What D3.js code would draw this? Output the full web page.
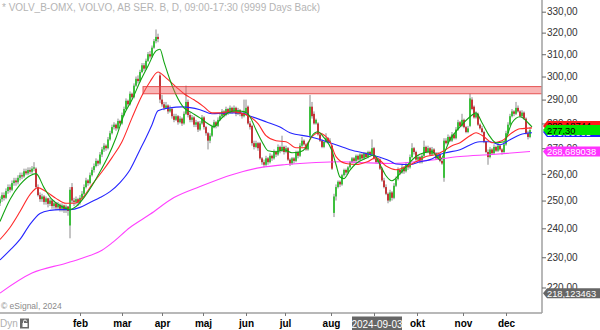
<!DOCTYPE html>
<html>
<head>
<meta charset="utf-8">
<script src="https://cdn.jsdelivr.net/npm/d3@7"></script>
<style>
body { margin: 0; background: #fff; }
svg { display: block; font-family: Arial, "Liberation Sans", sans-serif; }
</style>
</head>
<body>
<script>
// daily candles [open, high, low, close] (Dec 2023 - Dec 2024)
const ohlc = [
  [249.0,251.5,248.0,250.5],[250.5,253.0,249.5,252.0],[252.0,253.0,250.0,251.0],[251.0,254.5,250.5,253.5],
  [253.5,256.0,252.5,255.0],[255.0,256.0,253.0,254.0],[254.0,257.5,253.5,256.5],[256.5,258.5,255.5,257.5],
  [257.5,258.5,255.5,256.8],[256.8,259.5,256.0,258.5],[258.5,260.5,257.5,259.5],[259.5,260.5,258.0,259.0],
  [259.0,262.0,258.5,261.0],[261.0,262.0,259.5,260.2],[260.2,262.5,259.5,261.5],[261.5,262.5,260.0,260.8],
  [260.8,263.0,260.0,262.0],[262.0,264.5,261.0,262.5],[262.0,262.5,254.5,255.0],[255.0,256.0,251.5,252.0],
  [252.0,253.0,249.5,250.5],[250.5,252.5,249.5,251.5],[251.5,252.0,248.5,249.5],[249.5,251.5,248.5,250.8],
  [250.8,251.0,247.5,248.8],[248.8,251.0,248.0,250.0],[250.0,250.5,247.0,248.0],[248.0,250.0,247.0,249.0],
  [249.0,249.5,246.5,247.5],[247.5,249.5,246.5,248.5],[248.5,249.0,246.0,247.0],[247.0,249.0,246.0,248.2],
  [248.2,248.5,245.5,246.5],[246.5,248.5,245.5,247.8],[247.8,248.0,244.5,246.2],[241.0,255.0,236.5,254.0],
  [255.0,256.5,249.0,250.0],[250.0,251.0,248.0,249.5],[249.5,251.5,248.5,250.5],[250.5,251.0,248.0,249.2],
  [249.2,252.0,248.5,251.0],[251.0,253.5,250.5,252.5],[252.5,256.0,252.0,255.0],[255.0,258.5,254.5,257.5],
  [257.5,258.0,255.5,256.5],[256.5,260.5,256.0,259.5],[259.5,262.5,259.0,261.5],[261.5,264.0,260.5,263.0],
  [263.0,266.0,262.5,265.0],[265.0,265.5,263.0,264.0],[264.0,268.5,263.5,267.5],[267.5,270.5,266.5,269.5],
  [269.5,272.0,268.5,271.0],[271.0,271.5,269.0,270.0],[270.0,274.5,269.5,273.5],[273.5,277.0,273.0,276.0],
  [276.0,279.5,275.5,278.5],[278.5,280.5,277.5,279.5],[279.5,280.0,277.0,278.0],[278.0,282.0,277.5,281.0],
  [281.0,281.5,279.0,280.0],[280.0,284.5,279.5,283.5],[283.5,287.0,283.0,286.0],[286.0,290.5,285.5,289.5],
  [289.5,290.0,287.0,288.0],[288.0,293.5,287.5,292.5],[292.5,293.0,290.0,291.0],[291.0,297.0,290.5,296.0],
  [296.0,300.0,295.5,299.0],[299.0,300.5,297.0,298.0],[298.0,303.0,297.5,302.0],[302.0,306.0,301.5,305.0],
  [305.0,306.0,302.5,303.5],[303.5,308.0,303.0,307.0],[307.0,311.0,306.5,310.0],[310.0,311.5,308.0,309.0],
  [309.0,314.0,308.5,313.0],[313.0,317.0,312.5,316.0],[316.0,321.5,315.0,318.0],[318.0,319.5,315.5,317.0],
  [300.5,301.5,288.5,290.0],[290.0,292.0,287.0,288.0],[288.0,289.0,285.5,286.5],[286.5,289.0,286.0,287.5],
  [287.5,288.0,284.0,285.0],[285.0,287.5,284.5,286.0],[286.0,286.5,282.0,283.0],[283.0,284.0,280.5,281.5],
  [281.5,284.0,281.0,283.0],[283.0,283.5,279.5,280.5],[280.5,283.0,280.0,282.0],[282.0,282.5,279.0,280.0],
  [280.0,285.0,279.5,284.0],[284.0,296.0,283.5,289.0],[289.0,290.0,282.5,283.5],[283.5,284.5,280.5,281.5],
  [281.5,283.5,280.5,282.5],[282.5,283.0,278.5,279.5],[279.5,281.5,278.5,280.5],[280.5,281.0,276.5,277.5],
  [277.5,281.0,277.0,280.0],[280.0,283.5,279.5,282.5],[282.5,283.0,277.5,278.5],[278.5,279.0,275.0,276.0],
  [276.0,276.5,269.5,273.0],[273.0,276.0,272.0,275.0],[275.0,279.5,274.5,278.5],[278.5,281.5,278.0,280.5],
  [280.5,281.0,278.0,279.0],[279.0,282.5,278.5,281.5],[281.5,284.0,281.0,283.0],[283.0,286.0,282.5,285.0],
  [285.0,285.5,282.5,283.5],[283.5,287.0,283.0,286.0],[286.0,286.5,283.5,284.5],[284.5,287.5,284.0,286.5],
  [286.5,287.0,284.0,285.0],[285.0,287.5,284.5,286.5],[286.5,287.0,283.0,284.0],[284.0,286.5,283.5,285.5],
  [285.5,286.0,283.0,284.0],[284.0,284.5,282.0,283.0],[283.0,290.0,282.5,284.5],[284.5,290.0,284.0,286.5],
  [287.0,287.5,279.5,280.0],[280.0,281.0,277.5,278.5],[279.0,279.5,271.0,272.0],[272.0,273.0,269.5,270.5],
  [270.5,273.0,270.0,272.0],[272.0,272.5,269.0,270.0],[272.0,272.5,265.5,266.0],[266.0,266.5,263.5,264.5],
  [264.5,265.5,262.5,263.5],[263.5,267.0,263.0,266.0],[266.0,266.5,263.5,264.5],[264.5,268.0,264.0,267.0],
  [267.0,267.5,265.0,266.0],[266.0,269.5,265.5,268.5],[268.5,269.0,266.5,267.5],[267.5,271.5,267.0,270.5],
  [270.5,271.0,268.0,269.0],[269.0,275.0,268.5,270.5],[270.5,271.0,267.5,268.5],[268.5,271.0,268.0,270.0],
  [270.0,270.5,265.0,265.5],[265.5,266.0,263.0,264.0],[264.0,266.5,263.5,266.0],[266.0,266.5,264.0,265.0],
  [265.0,269.0,264.5,268.5],[268.5,269.0,266.0,267.0],[267.0,272.0,266.5,271.0],[271.0,274.5,270.5,273.0],
  [273.0,273.5,271.0,271.5],[271.5,272.0,269.0,269.5],[269.5,272.5,269.0,272.0],[275.0,292.0,274.0,287.0],
  [287.0,289.0,282.0,283.0],[284.0,285.0,279.5,280.0],[280.0,282.0,279.5,281.5],[280.0,280.5,275.0,275.5],
  [275.5,276.0,272.5,273.0],[273.0,273.5,270.0,270.5],[270.5,273.0,270.0,272.5],[272.5,276.0,272.0,274.0],
  [274.0,274.5,272.0,272.5],[272.5,274.0,272.0,273.0],[271.0,271.5,261.5,262.0],[245.5,252.5,244.0,251.5],
  [251.5,256.0,250.0,255.0],[255.0,257.5,254.5,257.0],[257.0,257.5,255.0,256.0],[256.0,260.0,255.5,259.5],
  [259.5,262.0,259.0,261.5],[261.5,262.0,259.5,260.5],[260.5,263.0,260.0,262.5],[262.5,265.0,262.0,264.5],
  [264.5,266.5,264.0,266.0],[266.0,266.5,264.0,265.0],[265.0,267.5,264.5,267.0],[267.0,267.5,265.0,265.5],
  [265.5,268.0,265.0,267.5],[267.5,268.0,265.5,266.0],[266.0,268.5,265.5,268.0],[268.0,268.5,266.0,266.5],
  [266.5,269.0,266.0,268.5],[268.5,269.0,267.0,267.5],[267.5,273.5,267.0,270.0],[270.0,270.5,265.5,266.0],
  [266.0,266.5,264.0,264.5],[264.5,266.0,264.0,265.5],[265.5,266.0,261.5,262.0],[262.0,262.5,257.0,257.5],
  [257.5,258.5,254.5,255.0],[255.0,256.0,252.0,252.5],[252.5,253.0,249.0,250.0],[250.0,254.0,249.5,253.0],
  [253.0,253.5,250.0,251.0],[251.0,256.5,250.5,255.5],[255.5,259.0,255.0,258.0],[258.0,262.5,257.5,261.5],
  [261.5,262.0,259.5,260.5],[260.5,263.5,260.0,262.5],[262.5,263.0,260.0,261.0],[261.0,264.5,260.5,263.5],
  [263.5,264.0,261.5,262.5],[262.5,267.5,262.0,266.5],[266.5,272.0,266.0,270.0],[270.0,270.5,267.5,268.5],
  [268.5,269.0,265.0,265.5],[265.5,267.5,265.0,266.5],[266.5,267.0,264.0,264.5],[264.5,268.0,264.0,267.0],
  [267.0,273.0,266.5,270.5],[270.5,271.0,268.0,268.5],[268.5,271.0,268.0,270.0],[270.0,270.5,267.0,267.5],
  [267.5,270.5,267.0,269.5],[269.5,270.0,267.5,268.0],[268.0,268.5,265.5,266.0],[266.0,268.5,265.5,267.5],
  [267.5,268.0,264.5,265.0],[265.0,266.0,263.5,264.0],[258.5,274.0,257.0,273.0],[273.0,274.0,271.5,272.0],
  [272.0,275.5,271.5,274.5],[274.5,275.0,272.5,273.0],[273.0,276.5,272.5,275.5],[275.5,276.0,273.5,274.0],
  [274.0,278.5,273.5,277.5],[277.5,281.5,277.0,280.5],[280.5,281.0,278.5,279.0],[279.0,284.0,278.5,281.5],
  [281.5,282.0,278.0,278.5],[278.5,279.0,276.0,276.5],[276.5,279.0,276.0,278.0],[279.0,292.5,278.5,290.5],
  [290.0,291.0,285.5,286.0],[287.0,287.5,282.0,282.5],[282.5,285.0,282.0,284.0],[284.0,284.5,279.0,279.5],
  [279.5,280.0,277.5,278.0],[278.0,279.0,276.0,276.5],[276.5,277.0,272.0,272.5],[272.5,273.0,268.0,268.5],
  [268.5,269.5,263.5,266.5],[266.5,270.5,266.0,269.5],[269.5,270.0,267.5,268.0],[268.0,271.5,267.5,270.5],
  [270.5,271.0,268.5,269.0],[269.0,272.0,268.5,271.0],[271.0,271.5,269.0,269.5],[269.5,270.0,267.5,268.5],
  [268.5,272.5,268.0,271.5],[271.5,277.0,271.0,276.0],[276.0,280.5,275.5,279.5],[279.5,284.0,279.0,283.0],
  [283.0,286.0,282.5,285.0],[285.0,285.5,283.0,284.0],[284.0,289.0,283.5,286.5],[286.5,287.5,284.5,285.0],
  [285.0,285.5,282.5,283.0],[283.0,285.5,282.5,284.5],[284.5,285.0,281.5,282.0],[282.0,282.5,275.5,276.0],
  [276.0,277.0,273.5,274.5],[274.5,278.5,274.0,277.3]
];

// moving averages as [candle index, price]
const greenMA = [[0,242.4],[5,250.4],[10,255.9],[15,259.3],[18,260.1],[22,254.8],[26,250.4],[30,248.2],[35,246.7],
  [38,247.8],[42,251.1],[46,255.5],[50,260.8],[54,266.7],[58,274.2],[62,283.6],[66,289.9],[70,297.7],[74,304.7],
  [78,311.5],[80,312.3],[82,306.5],[85,298.5],[88,292.1],[92,286.5],[96,284.4],[100,282.3],[104,279.9],[107,278.6],
  [110,281.5],[114,284.4],[118,285.3],[122,284.9],[125,282.8],[128,277.4],[131,272.6],[134,269.0],[138,268.6],
  [142,269.4],[146,268.2],[150,268.5],[153,270.2],[156,275.0],[159,276.6],[162,274.2],[166,269.0],[168,263.6],
  [170,258.8],[172,258.2],[175,261.4],[178,264.0],[183,266.0],[187,267.3],[190,263.6],[193,259.3],[196,257.4],
  [200,260.1],[204,263.6],[208,266.7],[212,268.2],[216,268.6],[220,265.5],[225,273.4],[230,278.6],[235,282.8],
  [238,284.4],[241,280.3],[245,274.6],[248,272.2],[252,272.6],[256,280.3],[260,282.8],[264,280.3],[266,278.6]];
const redMA = [[0,236.1],[5,240.3],[10,246.0],[15,252.2],[19,254.8],[23,253.3],[28,250.8],[33,249.0],[37,249.0],
  [41,250.8],[46,255.9],[51,260.8],[56,266.3],[61,272.6],[66,282.3],[71,291.7],[75,297.7],[79,302.0],[83,299.4],
  [88,295.5],[92,292.5],[97,289.9],[102,286.9],[106,284.4],[110,284.4],[115,284.9],[120,284.4],[125,282.8],
  [129,279.9],[133,275.0],[138,273.0],[143,272.6],[148,270.2],[152,270.2],[156,274.6],[159,276.2],[163,274.6],
  [165,272.6],[168,266.7],[173,264.0],[178,263.6],[184,264.8],[188,266.3],[193,263.0],[198,261.6],[203,262.8],
  [208,264.7],[213,266.7],[218,267.5],[222,269.0],[226,271.0],[230,272.2],[235,275.0],[238,276.2],[242,274.6],
  [246,272.2],[251,273.0],[256,276.2],[260,277.8],[266,278.2]];
const blueMA = [[0,229.1],[5,232.4],[10,236.1],[15,241.4],[20,245.3],[25,246.4],[30,246.7],[35,246.7],[40,247.5],
  [45,249.3],[50,251.1],[55,253.3],[60,256.7],[65,261.6],[70,269.4],[73,274.2],[76,279.5],[79,285.3],[85,286.5],
  [91,286.9],[100,285.7],[106,284.0],[113,284.4],[120,284.4],[126,282.8],[133,280.7],[140,278.5],[145,276.2],
  [155,274.6],[165,272.2],[175,269.4],[185,267.5],[195,265.0],[198,263.8],[205,263.6],[210,264.7],[215,265.5],
  [220,267.5],[230,269.4],[240,272.6],[245,272.6],[250,271.4],[255,273.4],[260,275.4],[266,276.2]];
const magentaMA = [[0,218.2],[16,224.7],[33,228.0],[41,229.7],[51,232.4],[56,234.9],[65,240.3],[75,245.0],
  [87,251.1],[100,255.2],[116,259.7],[130,262.4],[143,263.6],[158,264.4],[170,264.7],[180,264.4],[196,264.0],
  [213,265.1],[230,266.7],[246,267.5],[265,268.7]];

const priceTicks = [220, 230, 240, 250, 260, 270, 280, 290, 300, 310, 320, 330];
const monthLabels = ['feb', 'mar', 'apr', 'maj', 'jun', 'jul', 'aug', '', 'okt', 'nov', 'dec'];
const monthIdx = [40, 61, 81, 101.5, 123, 142.5, 165.5, 187, 208.5, 231.5, 253];
const zone = [292.5, 295.6];   // resistance band
const zoneStart = 71.5;
const tagValues = [218.123463, 268.689038, 279.0, 276.5, 277.30];
const tagTexts = ['218,123463', '268,689038', '280,18744', '275,80065', '277,30'];
const tagFills = ['#666666', '#ff33ff', '#ff1a1a', '#1f1fff', '#00e600'];
const tagInk = ['#fff', '#fff', '#000', '#fff', '#000'];

const W = 600, H = 330, axisX = 542, baseY = 313;

const svg = d3.select('body').append('svg')
    .attr('width', W)
    .attr('height', H)

const x = d3.scaleLinear().domain([0, 265]).range([0, 530])
const y = d3.scaleLog().domain([220, 330]).range([287.5, 11.7])

svg.append('clipPath').attr('id', 'plot')
  .append('rect').attr('x', 0).attr('y', 0).attr('width', axisX).attr('height', baseY)

const plot = svg.append('g').attr('clip-path', 'url(#plot)')

// title and copyright
svg.append('text')
    .attr('x', 2).attr('y', 11)
    .attr('font-size', '10px')
    .attr('fill', '#b4b4b4')
    .text('* VOLV_B-OMX, VOLVO, AB SER. B, D, 09:00-17:30 (9999 Days Back)')
svg.append('text')
    .attr('x', 1).attr('y', 308.5)
    .attr('font-size', '8.5px')
    .attr('fill', '#8a8a8a')
    .text('\u00a9 eSignal, 2024')

// candles
const candle = plot.selectAll('.candle').data(ohlc).enter()
    .append('g').attr('class', 'candle')
candle.append('line')
    .attr('x1', (d, i) => x(i)).attr('x2', (d, i) => x(i))
    .attr('y1', d => y(d[1])).attr('y2', d => y(d[2]))
    .attr('stroke', '#8a8a8a').attr('stroke-width', 1)
candle.append('rect')
    .attr('x', (d, i) => x(i) - 0.9)
    .attr('width', 1.8)
    .attr('y', d => y(Math.max(d[0], d[3])))
    .attr('height', d => Math.max(1, Math.abs(y(d[0]) - y(d[3]))))
    .attr('fill', d => d[3] >= d[0] ? '#2fbf2f' : '#c4262b')

// moving averages
const line = d3.line()
    .x(d => x(d[0]))
    .y(d => y(d[1]))
    .curve(d3.curveMonotoneX)
const mas = [[magentaMA, '#ff40ff'], [blueMA, '#2525ff'], [redMA, '#ff2a2a'], [greenMA, '#12a412']]
mas.forEach(m => {
  plot.append('path')
      .datum(m[0])
      .attr('d', line)
      .attr('fill', 'none')
      .attr('stroke', m[1])
      .attr('stroke-width', 1.1)
})

// resistance zone
plot.append('rect')
    .attr('x', x(zoneStart))
    .attr('y', y(zone[1]))
    .attr('width', axisX - x(zoneStart) + 2)
    .attr('height', y(zone[0]) - y(zone[1]))
    .attr('fill', 'rgba(242,90,90,0.45)')
    .attr('stroke', 'rgba(225,60,60,0.85)')
    .attr('stroke-width', 1)

// frame
svg.append('line')
    .attr('x1', axisX).attr('x2', axisX).attr('y1', 0).attr('y2', baseY)
    .attr('stroke', '#a0a0a0').attr('stroke-width', 1.5)
svg.append('line')
    .attr('x1', 0).attr('x2', axisX).attr('y1', baseY).attr('y2', baseY)
    .attr('stroke', '#a0a0a0').attr('stroke-width', 1.5)

// price axis
const yAxis = svg.append('g')
    .attr('transform', 'translate(' + axisX + ',0)')
    .call(d3.axisRight(y).tickValues(priceTicks).tickSize(4).tickPadding(1)
      .tickFormat(d => d.toFixed(2).replace('.', ',')))
yAxis.select('.domain').remove()
yAxis.selectAll('line').attr('stroke', '#666')
yAxis.selectAll('text')
    .attr('font-size', '10px')
    .attr('font-family', 'Arial, "Liberation Sans", sans-serif')
    .attr('fill', '#333')

// price tags on the axis
tagValues.forEach((v, i) => {
  const ty = y(v)
  const g = svg.append('g')
  g.append('path')
      .attr('d', 'M' + (axisX + 1) + ',' + ty + 'L' + (axisX + 5) + ',' + (ty - 5) + 'L' + W + ',' + (ty - 5)
        + 'L' + W + ',' + (ty + 5) + 'L' + (axisX + 5) + ',' + (ty + 5) + 'Z')
      .attr('fill', tagFills[i])
  g.append('text')
      .attr('x', axisX + 5).attr('y', ty + 3.6)
      .attr('font-size', '9.3px')
      .attr('fill', tagInk[i])
      .text(tagTexts[i])
})

// month axis
const xAxis = svg.append('g')
    .attr('transform', 'translate(0,' + baseY + ')')
    .call(d3.axisBottom(x).tickValues(monthIdx).tickSize(3).tickPadding(4)
      .tickFormat((d, i) => monthLabels[i]))
xAxis.select('.domain').remove()
xAxis.selectAll('line').attr('stroke', '#777')
xAxis.selectAll('text')
    .attr('font-size', '10px')
    .attr('font-weight', 'bold')
    .attr('font-family', 'Arial, "Liberation Sans", sans-serif')
    .attr('fill', '#000')

// cursor date box
svg.append('rect')
    .attr('x', 352).attr('y', 316.5).attr('width', 50).attr('height', 14)
    .attr('fill', '#666')
svg.append('text')
    .attr('x', 377).attr('y', 327.5)
    .attr('text-anchor', 'middle')
    .attr('font-size', '10px')
    .attr('fill', '#fff')
    .text('2024-09-03')

// "Dyn" and lock icon
svg.append('text')
    .attr('x', 0).attr('y', 327)
    .attr('font-size', '10px')
    .attr('fill', '#b0b0b0')
    .text('Dyn')
svg.append('rect')
    .attr('x', 20).attr('y', 318.5).attr('width', 9).attr('height', 10)
    .attr('fill', '#6a6a6a')
svg.append('rect')
    .attr('x', 22.5).attr('y', 323).attr('width', 5).attr('height', 4)
    .attr('fill', '#fff')
svg.append('path')
    .attr('d', 'M23.5,323 V321.5 A1.5,1.5 0 0 1 26.5,321.5')
    .attr('fill', 'none').attr('stroke', '#fff').attr('stroke-width', 1)
</script>
</body>
</html>
